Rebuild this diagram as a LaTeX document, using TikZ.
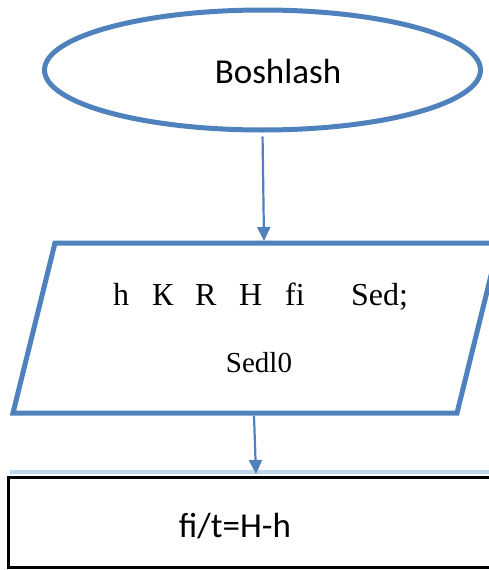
\documentclass[tikz,border=0pt]{standalone}
\usepackage{fontspec}
\setsansfont{Carlito}
\newfontfamily\srf{Liberation Serif}
\usetikzlibrary{arrows.meta,shapes.geometric}
\definecolor{obl}{HTML}{4F81BD}
\definecolor{lbl}{HTML}{BDD7EE}
\begin{document}
\begin{tikzpicture}[x=1pt,y=-1pt,
  arr/.style={draw=obl,fill=obl,line width=2.2pt,-{Triangle[width=13pt,length=14pt]}},
  shp/.style={draw=obl,line width=5pt},
  sanstxt/.style={anchor=base,inner sep=0pt,font=\sffamily\fontsize{35}{40}\selectfont},
  seriftxt/.style={inner sep=0pt,font=\srf\fontsize{32}{38}\selectfont}]
\useasboundingbox (0,0) rectangle (489,570);
\clip (0,0) rectangle (489,570);
% start ellipse
\node[shp,ellipse,minimum width=436pt,minimum height=120pt] (e) at (262.5,70) {};
\node[sanstxt] (t1) at (278,83) {Boshlash};
% input parallelogram
\draw[shp,line join=miter] (55,243) coordinate (p1) -- (499,243) coordinate (p2)
   -- (457,413) coordinate (p3) -- (13,413) coordinate (p4) -- cycle;
\node[seriftxt,anchor=base west] (l1) at (113,305)
  {\rlap{h}\hspace{39pt}\rlap{К}\hspace{43pt}\rlap{R}\hspace{44pt}\rlap{H}\hspace{46pt}\rlap{fi}\hspace{66pt}Sed;};
\node[seriftxt,anchor=base,font=\srf\fontsize{29}{34}\selectfont] (l2) at (259,372) {Sedl0};
% process rectangle
\draw[lbl,line width=3.5pt] (10,472) coordinate (lb1) -- (495,472) coordinate (lb2);
\node[draw=black,line width=3pt,minimum width=512pt,minimum height=90pt,inner sep=0pt] (r) at (264,522) {};
\node[sanstxt] (t3) at (235,537) {fi/t=H-h};
% connectors
\coordinate (pin) at (264,241);
\coordinate (pout) at (254,416);
\coordinate (rin) at (256,474);
\draw[arr,shorten <=4pt] (e.south) -- (pin);
\draw[arr] (pout) -- (rin);
\end{tikzpicture}
\end{document}
